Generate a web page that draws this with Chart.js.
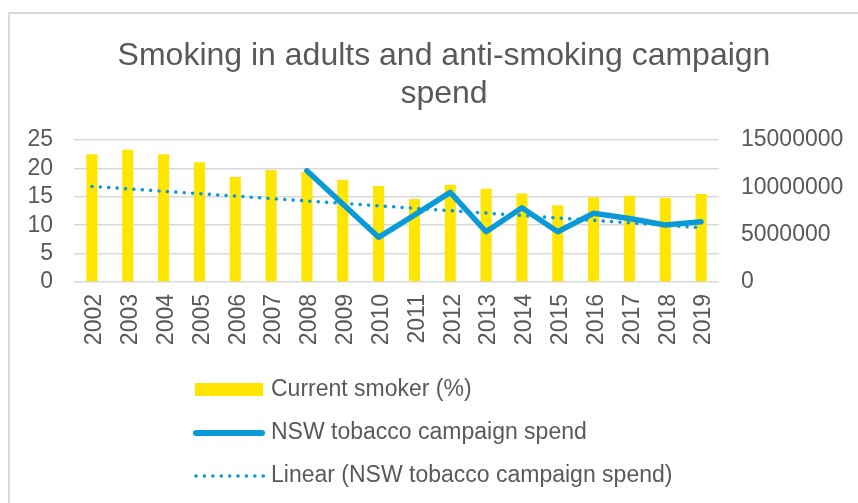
<!DOCTYPE html>
<html lang="en">
<head>
  <meta charset="UTF-8" />
  <title>Smoking in adults and anti-smoking campaign spend</title>
  <script src="https://cdn.jsdelivr.net/npm/chart.js"></script>
  <style>
    body {
      margin: 0;
      background: #fff;
      font-family: 'Liberation Sans', Arial, sans-serif;
    }
    /* light grey chart frame, runs off the right and bottom edge */
    .frame {
      position: absolute;
      left: 8px;
      top: 12px;
      width: 900px;
      height: 520px;
      border: 2px solid #d9d9d9;
      box-sizing: border-box;
    }
    .chart-box {
      position: absolute;
      left: 0;
      top: 0;
      width: 858px;
      height: 503px;
    }
  </style>
</head>
<body>
  <div class="frame"></div>
  <div class="chart-box"><canvas id="smokingChart"></canvas></div>

  <script>
    const years = ['2002', '2003', '2004', '2005', '2006', '2007', '2008', '2009', '2010',
                   '2011', '2012', '2013', '2014', '2015', '2016', '2017', '2018', '2019'];

    // Current smoker (%)
    const smokerPct = [22.5, 23.3, 22.5, 21.1, 18.5, 19.7, 19.4, 18.0, 16.9,
                       14.6, 17.1, 16.4, 15.6, 13.5, 14.9, 15.2, 14.8, 15.5];

    // NSW tobacco campaign spend ($), no figures before 2008
    const campaignSpend = [null, null, null, null, null, null,
                           11760000, 8250000, 4720000, 7060000, 9470000, 5310000,
                           7850000, 5310000, 7260000, 6700000, 6020000, 6370000];

    // Linear trend of the spend, end points only
    const spendTrend = [10100000, null, null, null, null, null, null, null, null,
                        null, null, null, null, null, null, null, null, 5740000];

    const pctTicks = [0, 5, 10, 15, 20, 25];
    const spendTicks = [0, 5000000, 10000000, 15000000];

    const titleLines = ['Smoking in adults and anti-smoking campaign', 'spend'];

    const grey = '#595959';
    const yellow = '#ffe600';
    const blue = '#0a9ad8';
    const trendDash = [0.1, 8.3];
    const fontFamily = "'Liberation Sans', Arial, sans-serif";

    Chart.defaults.font.family = fontFamily;
    Chart.defaults.color = grey;

    // Title centred on the frame rather than the canvas
    const frameTitle = {
      id: 'frameTitle',
      afterDraw(chart) {
        const ctx = chart.ctx;
        ctx.save();
        ctx.font = '32px ' + fontFamily;
        ctx.fillStyle = grey;
        ctx.textAlign = 'center';
        ctx.textBaseline = 'middle';
        titleLines.forEach((t, i) => ctx.fillText(t, 444, 56 + i * 38));
        ctx.restore();
      }
    };

    // Legend stacked in one column under the axis
    const stackedLegend = {
      id: 'stackedLegend',
      afterDraw(chart) {
        const ctx = chart.ctx;
        const ds = chart.data.datasets;
        const rows = [390, 433, 476];
        ctx.save();
        ctx.font = '23px ' + fontFamily;
        ctx.textBaseline = 'middle';
        ctx.fillStyle = grey;
        ds.forEach((d, i) => ctx.fillText(d.label, 271, rows[i]));

        ctx.fillStyle = yellow;
        ctx.fillRect(195, 383, 68, 13);

        ctx.strokeStyle = blue;
        ctx.lineCap = 'round';
        ctx.lineWidth = 6;
        ctx.beginPath();
        ctx.moveTo(196, rows[1]);
        ctx.lineTo(262, rows[1]);
        ctx.stroke();

        ctx.lineWidth = 3.5;
        ctx.setLineDash(trendDash);
        ctx.beginPath();
        ctx.moveTo(196, rows[2]);
        ctx.lineTo(264, rows[2]);
        ctx.stroke();
        ctx.restore();
      }
    };

    new Chart(document.getElementById('smokingChart'), {
      data: {
        labels: years,
        datasets: [
          {
            type: 'bar',
            label: 'Current smoker (%)',
            data: smokerPct,
            backgroundColor: yellow,
            barPercentage: 0.31,
            categoryPercentage: 1,
            yAxisID: 'y',
            order: 3
          },
          {
            type: 'line',
            label: 'NSW tobacco campaign spend',
            data: campaignSpend,
            borderColor: blue,
            borderWidth: 5.5,
            borderCapStyle: 'round',
            borderJoinStyle: 'round',
            pointRadius: 0,
            tension: 0,
            yAxisID: 'y1',
            order: 2
          },
          {
            type: 'line',
            label: 'Linear (NSW tobacco campaign spend)',
            data: spendTrend,
            borderColor: blue,
            borderWidth: 3.5,
            borderDash: trendDash,
            borderCapStyle: 'round',
            pointRadius: 0,
            spanGaps: true,
            yAxisID: 'y1',
            order: 1
          }
        ]
      },
      options: {
        responsive: true,
        maintainAspectRatio: false,
        animation: false,
        layout: { padding: { left: 0, right: 0, top: 140, bottom: 156 } },
        plugins: {
          legend: { display: false },
          tooltip: { enabled: false },
          title: { display: false }
        },
        scales: {
          x: {
            grid: { display: false, drawTicks: false },
            border: { display: false },
            ticks: {
              color: grey,
              font: { size: 23 },
              minRotation: 90,
              maxRotation: 90,
              padding: 12,
              labelOffset: 3,
              autoSkip: false
            },
            afterFit(scale) { scale.height = 65; }
          },
          y: {
            position: 'left',
            min: pctTicks[0],
            max: pctTicks[pctTicks.length - 1],
            afterBuildTicks(scale) { scale.ticks = pctTicks.map(v => ({ value: v })); },
            grid: { color: '#d9d9d9', lineWidth: 1.5, drawTicks: false },
            border: { display: false },
            ticks: { color: grey, font: { size: 23 }, padding: 21, autoSkip: false },
            afterFit(scale) { scale.width = 74; }
          },
          y1: {
            position: 'right',
            min: spendTicks[0],
            max: spendTicks[spendTicks.length - 1],
            afterBuildTicks(scale) { scale.ticks = spendTicks.map(v => ({ value: v })); },
            grid: { display: false, drawTicks: false },
            border: { display: false },
            ticks: {
              color: grey,
              font: { size: 23 },
              padding: 22,
              autoSkip: false,
              callback: v => String(v)
            },
            afterFit(scale) { scale.width = 139; }
          }
        }
      },
      plugins: [frameTitle, stackedLegend]
    });
  </script>
</body>
</html>
